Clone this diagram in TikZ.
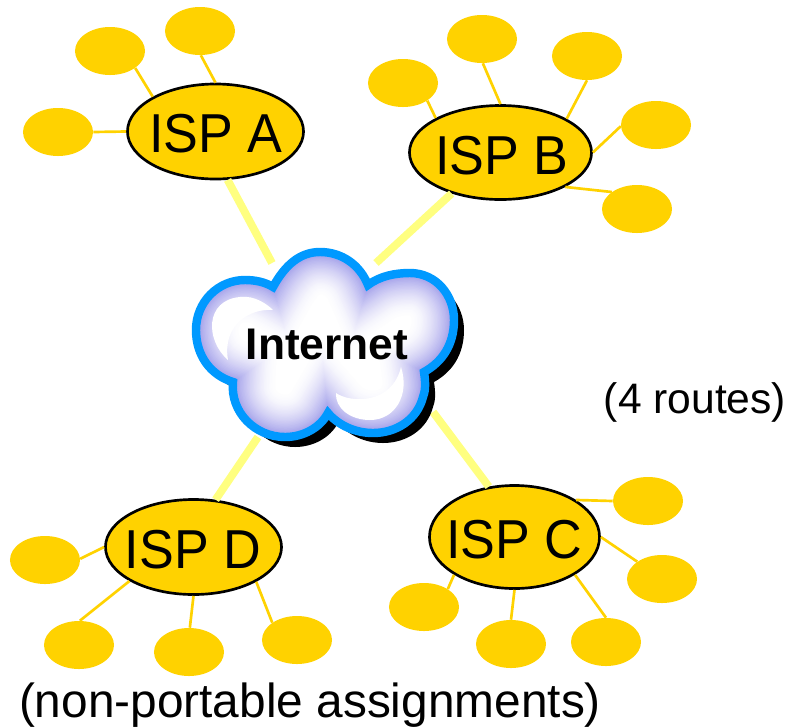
\documentclass[tikz,border=0pt]{standalone}
\usepackage{fontspec}
\setmainfont{Liberation Sans}
\usetikzlibrary{shapes.geometric}
\definecolor{ispgold}{HTML}{FFD200}
\definecolor{feedyellow}{HTML}{FFFF80}
\definecolor{cloudblue}{HTML}{0099FF}
\definecolor{cloudglow}{HTML}{9A96E8}
\newcommand{\pxunit}{*0.7113pt}
\tikzset{
  ispnode/.style={ellipse,draw=black,line width=1.9pt,fill=ispgold,inner sep=0pt},
  isptext/.style={font=\fontsize{39}{40}\selectfont,transform shape,xscale=0.95},
  hostnode/.style={ellipse,fill=ispgold,minimum width=70\pxunit,minimum height=48\pxunit,inner sep=0pt},
  hostline/.style={draw=ispgold,line width=1.9pt},
  feedline/.style={draw=feedyellow,line width=5.6pt},
}
\newcommand{\cloudpath}{(273,287) .. controls (285,265) and (300,252) .. (320,252)
  .. controls (342,252) and (360,265) .. (368,285)
  .. controls (380,276) and (395,273) .. (410,273)
  .. controls (436,273) and (454,295) .. (454,320)
  .. controls (454,345) and (442,362) .. (424,372)
  .. controls (426,385) and (425,392) .. (423,397)
  .. controls (417,420) and (396,433) .. (373,433)
  .. controls (355,433) and (338,425) .. (328,413)
  .. controls (320,428) and (303,437) .. (285,437)
  .. controls (255,437) and (230,412) .. (233,382)
  .. controls (210,375) and (196,355) .. (196,330)
  .. controls (196,302) and (218,280) .. (245,280)
  .. controls (255,280) and (265,282) .. (273,287) -- cycle}
\begin{document}
\begin{tikzpicture}[x=0.025cm,y=-0.025cm]
\useasboundingbox (0,0) rectangle (789,726);
% ISPs
\node[ispnode,minimum width=176\pxunit,minimum height=95\pxunit] (ispa) at (215.5,131.5) {};
\node[isptext] (ispatext) at (216,133.5) {ISP A};
\node[ispnode,minimum width=182\pxunit,minimum height=94\pxunit] (ispb) at (500.5,152.5) {};
\node[isptext] (ispbtext) at (502,156) {ISP B};
\node[ispnode,minimum width=170\pxunit,minimum height=103\pxunit] (ispc) at (514.5,537) {};
\node[isptext] (ispctext) at (514.5,540) {ISP C};
\node[ispnode,minimum width=176\pxunit,minimum height=95\pxunit] (ispd) at (193.5,547) {};
\node[isptext] (ispdtext) at (193,549.5) {ISP D};
% customers of each ISP
\foreach \hostname/\x/\y/\hostangle/\ispname/\ispangle in {
  a1/110/51/-34/ispa/151, a2/200/31/-88/ispa/90, a3/58/132/0/ispa/180,
  b1/403/83/-36/ispb/152, b2/482/39/-88/ispb/90, b3/587/56/-90/ispb/27,
  b4/656/125/182/ispb/0, b5/637/209/146/ispb/-28,
  c1/648/501/180/ispc/31, c2/662/579/145/ispc/0, c3/606/642/90/ispc/-32,
  c4/511/644/90/ispc/-90, c5/424/607/37/ispc/212,
  d1/45/560/2/ispd/180, d2/79/645/88/ispd/208, d3/189/652/88/ispd/-90,
  d4/297/640/145/ispd/-29} {
  \node[hostnode] (\hostname) at (\x,\y) {};
  \draw[hostline] (\hostname.\hostangle) -- (\ispname.\ispangle);
}
% links to the cloud
\coordinate (cloudA) at (272,263);
\coordinate (cloudB) at (376,263);
\coordinate (cloudC) at (433,412);
\coordinate (cloudD) at (258,437);
\draw[feedline] (ispa.-76) -- (cloudA);
\draw[feedline] (ispb.220) -- (cloudB);
\draw[feedline] (ispc.117) -- (cloudC);
\draw[feedline] (ispd.65) -- (cloudD);
% cloud
\fill[black] [shift={(10,10)}] \cloudpath;
\begin{scope}
\clip \cloudpath;
\fill[white] (190,245) rectangle (460,445);
\foreach \w in {60,58,...,8} {
  \pgfmathtruncatemacro{\mixval}{2+80*((60-\w)/52)^1.6}
  \draw[cloudglow!\mixval!white,line width=\w pt] \cloudpath;
}
\fill[white] (228,360) .. controls (205,340) and (205,300) .. (240,297)
  .. controls (255,295) and (268,305) .. (273,310)
  .. controls (250,308) and (222,325) .. (228,360) -- cycle;
\fill[white] (401,367) .. controls (410,395) and (395,420) .. (370,420)
  .. controls (350,420) and (335,408) .. (336,393)
  .. controls (350,403) and (392,405) .. (401,367) -- cycle;
\end{scope}
\draw[cloudblue,line width=6pt] \cloudpath;
\node[font=\fontsize{31.5}{32}\selectfont\bfseries] (internet) at (327,344) {Internet};
% notes
\node[font=\fontsize{30.3}{31}\selectfont] (routes) at (695,402) {(4 routes)};
\node[font=\fontsize{34}{35}\selectfont] (assign) at (310,705) {(non-portable assignments)};
\end{tikzpicture}
\end{document}
